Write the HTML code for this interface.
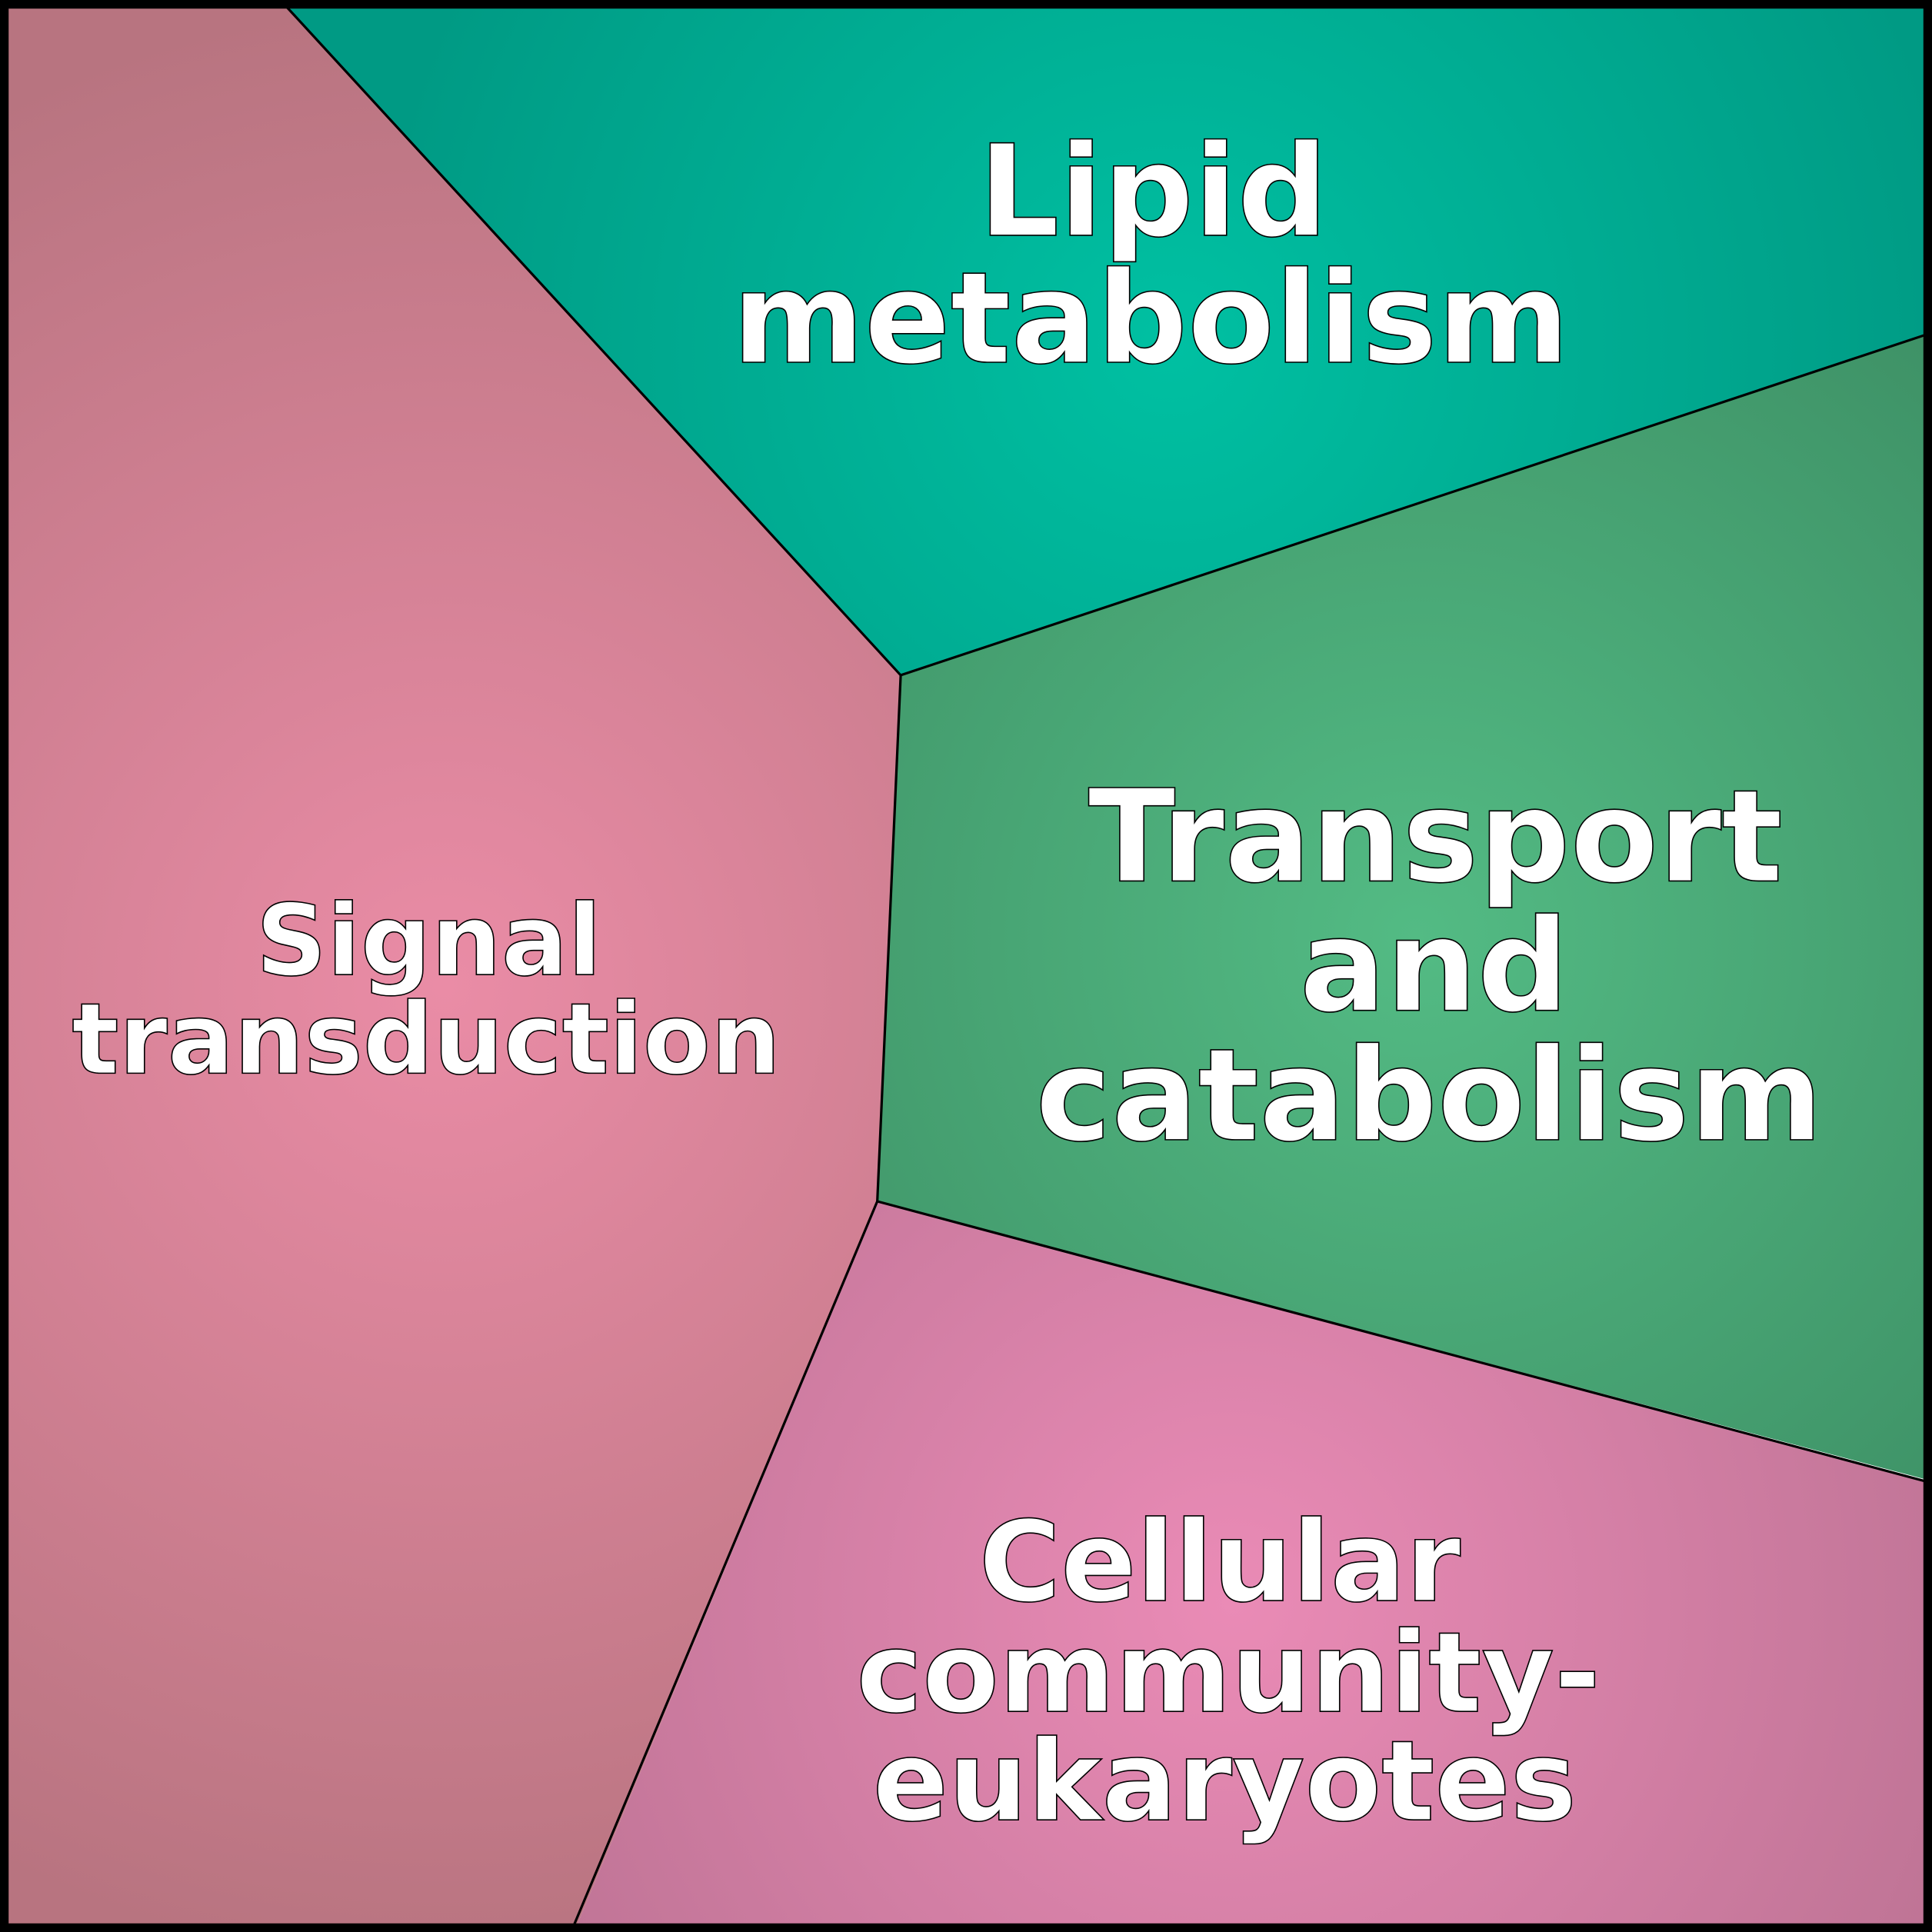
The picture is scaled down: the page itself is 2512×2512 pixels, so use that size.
<!DOCTYPE html>
<html><head><meta charset="utf-8"><style>html,body{margin:0;padding:0;background:#fff}svg{display:block}</style></head>
<body>
<svg width="2512" height="2512" viewBox="0 0 1568 1568" xmlns="http://www.w3.org/2000/svg">
<defs>
<radialGradient id="gL" gradientUnits="userSpaceOnUse" cx="950" cy="280" r="650"><stop offset="0" stop-color="#00c0a2"/><stop offset="1" stop-color="#009a84"/></radialGradient>
<radialGradient id="gT" gradientUnits="userSpaceOnUse" cx="1150" cy="760" r="650"><stop offset="0" stop-color="#53bb84"/><stop offset="1" stop-color="#3e9166"/></radialGradient>
<radialGradient id="gS" gradientUnits="userSpaceOnUse" cx="360" cy="800" r="800"><stop offset="0" stop-color="#ea8ca6"/><stop offset="1" stop-color="#b87480"/></radialGradient>
<radialGradient id="gC" gradientUnits="userSpaceOnUse" cx="1000" cy="1300" r="650"><stop offset="0" stop-color="#ea8bb6"/><stop offset="1" stop-color="#bd7394"/></radialGradient>
</defs>
<polygon points="0,0 233,6 731,548 712,975 466,1568 0,1568" fill="url(#gS)"/>
<polygon points="233,6 1568,0 1562,272 731,548" fill="url(#gL)"/>
<polygon points="731,548 1562,272 1568,1202 712,975" fill="url(#gT)"/>
<polygon points="712,975 1562,1202 1568,1568 466,1568" fill="url(#gC)"/>
<g stroke="#000" stroke-width="2" fill="none">
<polyline points="233,6 731,548 1562,272"/>
<polyline points="731,548 712,975 1562,1202"/>
<line x1="712" y1="975" x2="466" y2="1562"/>
</g>
<rect x="3.5" y="3.5" width="1561" height="1561" fill="none" stroke="#000" stroke-width="7"/>
<g font-family="DejaVu Sans, Liberation Sans, sans-serif" font-weight="bold" fill="#fff" stroke="#000" stroke-width="1" text-anchor="middle">
<text font-size="103" x="936" y="191">Lipid</text>
<text font-size="103" x="934" y="294">metabolism</text>
<text font-size="80" x="348" y="791">Signal</text>
<text font-size="80" x="346" y="871">transduction</text>
<text font-size="104" x="1165" y="715">Transport</text>
<text font-size="104" x="1164" y="820">and</text>
<text font-size="104" x="1160" y="925">catabolism</text>
<text font-size="90.5" x="990" y="1299">Cellular</text>
<text font-size="90.5" x="997" y="1389">community-</text>
<text font-size="90.5" x="994" y="1477">eukaryotes</text>
</g>
</svg>
</body></html>
